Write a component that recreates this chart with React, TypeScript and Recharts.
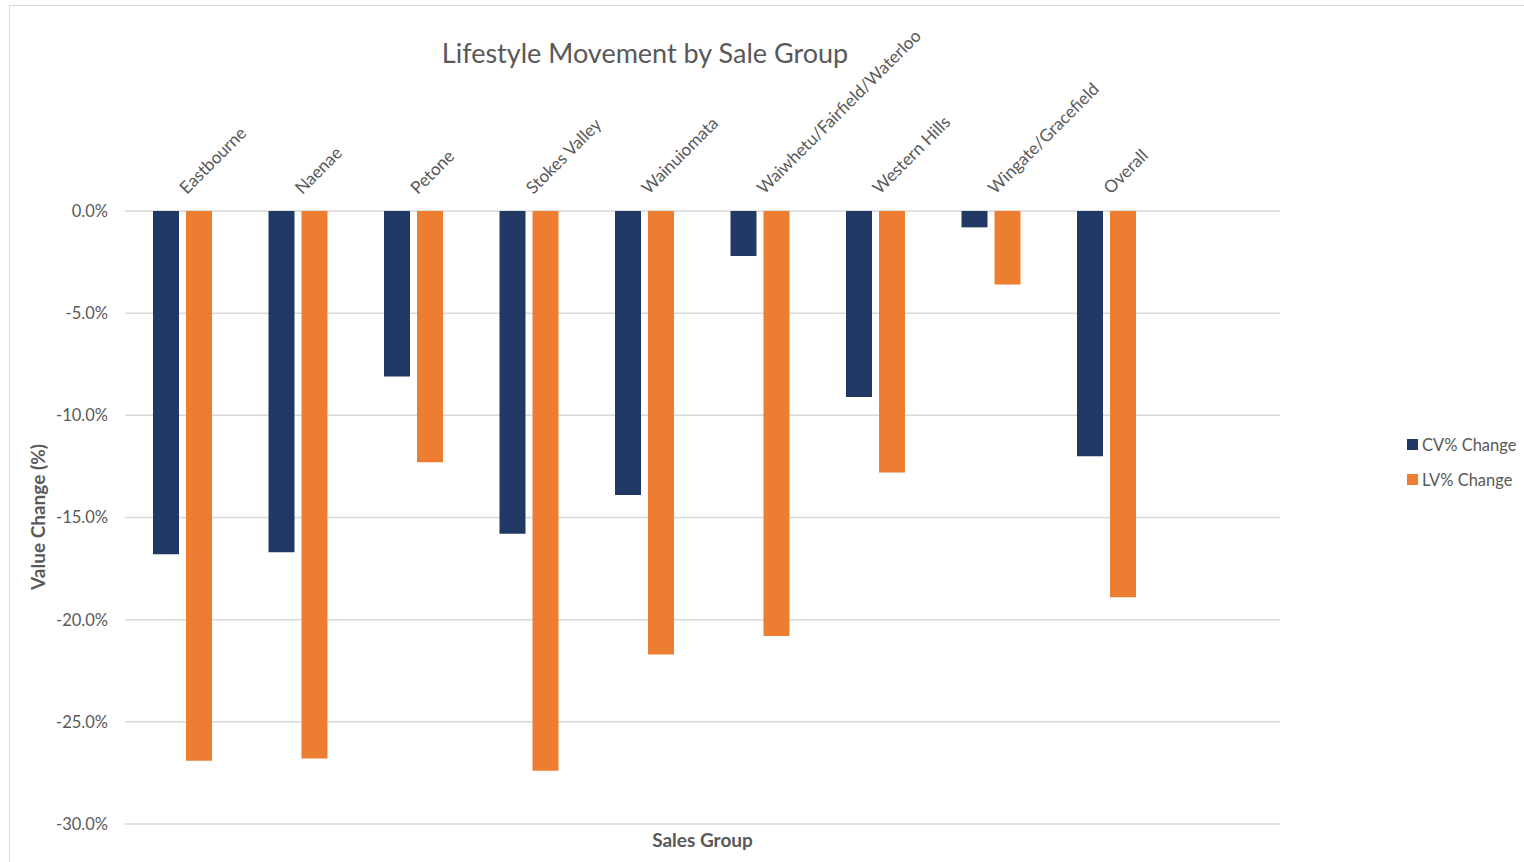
import React from 'react';
import {
  BarChart,
  Bar,
  XAxis,
  YAxis,
  CartesianGrid,
} from 'recharts';

const groups = [
  'Eastbourne',
  'Naenae',
  'Petone',
  'Stokes Valley',
  'Wainuiomata',
  'Waiwhetu/Fairfield/Waterloo',
  'Western Hills',
  'Wingate/Gracefield',
  'Overall',
  '',
];
const cvChange = [-16.8, -16.7, -8.1, -15.8, -13.9, -2.2, -9.1, -0.8, -12.0, null];
const lvChange = [-26.9, -26.8, -12.3, -27.4, -21.7, -20.8, -12.8, -3.6, -18.9, null];
const yTicks = [0, -5, -10, -15, -20, -25, -30];

const data = groups.map((g, i) => ({ group: g, cv: cvChange[i], lv: lvChange[i] }));

const FONT = 'Lato, "Open Sans", sans-serif';
const GREY = '#595959';
const NAVY = '#1F3864';
const ORANGE = '#ED7D31';

const legendItems = [
  { label: 'CV% Change', color: NAVY },
  { label: 'LV% Change', color: ORANGE },
];

function GroupTick(props: any) {
  const { x, y, payload } = props;
  return (
    <g transform={`translate(${x + 4},${y})`}>
      <text
        transform="rotate(-45)"
        textAnchor="start"
        fill={GREY}
        fontSize={17.2}
        fontFamily={FONT}
      >
        {payload.value}
      </text>
    </g>
  );
}

export default function App() {
  return (
    <div style={{ position: 'absolute', left: 0, top: 0, width: 1524, height: 862, overflow: 'hidden', background: '#fff' }}>
      <div
        style={{
          position: 'absolute',
          left: 9,
          top: 5,
          width: 1530,
          height: 900,
          border: '1.5px solid #d9d9d9',
        }}
      />
      <div
        style={{
          position: 'absolute',
          left: 0,
          width: 1290,
          top: 36,
          textAlign: 'center',
          fontFamily: FONT,
          fontSize: 27,
          color: GREY,
        }}
      >
        Lifestyle Movement by Sale Group
      </div>
      <div style={{ position: 'absolute', left: 0, top: 0 }}>
        <BarChart
          width={1524}
          height={862}
          data={data}
          margin={{ top: 61, right: 244, bottom: 38, left: 25 }}
          barGap={7}
        >
          <CartesianGrid vertical={false} stroke="#d9d9d9" strokeWidth={1.5} />
          <XAxis
            dataKey="group"
            orientation="top"
            height={150}
            axisLine={false}
            tickLine={false}
            interval={0}
            tickMargin={10}
            tick={<GroupTick />}
          />
          <YAxis
            type="number"
            domain={[-30, 0]}
            ticks={yTicks}
            width={100}
            axisLine={false}
            tickLine={false}
            tickMargin={11}
            tickFormatter={(v: number) => `${v.toFixed(1)}%`}
            tick={{ fill: GREY, fontSize: 16.5, fontFamily: FONT }}
          />
          <Bar dataKey="cv" name="CV% Change" fill={NAVY} barSize={26} isAnimationActive={false} />
          <Bar dataKey="lv" name="LV% Change" fill={ORANGE} barSize={26} isAnimationActive={false} />
        </BarChart>
      </div>
      <div
        style={{
          position: 'absolute',
          left: 1407,
          top: 427,
          fontFamily: FONT,
          fontSize: 16.5,
          color: GREY,
        }}
      >
        {legendItems.map((it) => (
          <div key={it.label} style={{ display: 'flex', alignItems: 'center', height: 35 }}>
            <span style={{ width: 11, height: 11, background: it.color, marginRight: 4 }} />
            <span>{it.label}</span>
          </div>
        ))}
      </div>
      <div
        style={{
          position: 'absolute',
          left: 125,
          width: 1155,
          top: 828,
          textAlign: 'center',
          fontFamily: FONT,
          fontWeight: 'bold',
          fontSize: 19,
          color: GREY,
        }}
      >
        Sales Group
      </div>
      <div
        style={{
          position: 'absolute',
          left: 37,
          top: 517,
          transform: 'translate(-50%, -50%) rotate(-90deg)',
          whiteSpace: 'nowrap',
          fontFamily: FONT,
          fontWeight: 'bold',
          fontSize: 19,
          color: GREY,
        }}
      >
        Value Change (%)
      </div>
    </div>
  );
}
